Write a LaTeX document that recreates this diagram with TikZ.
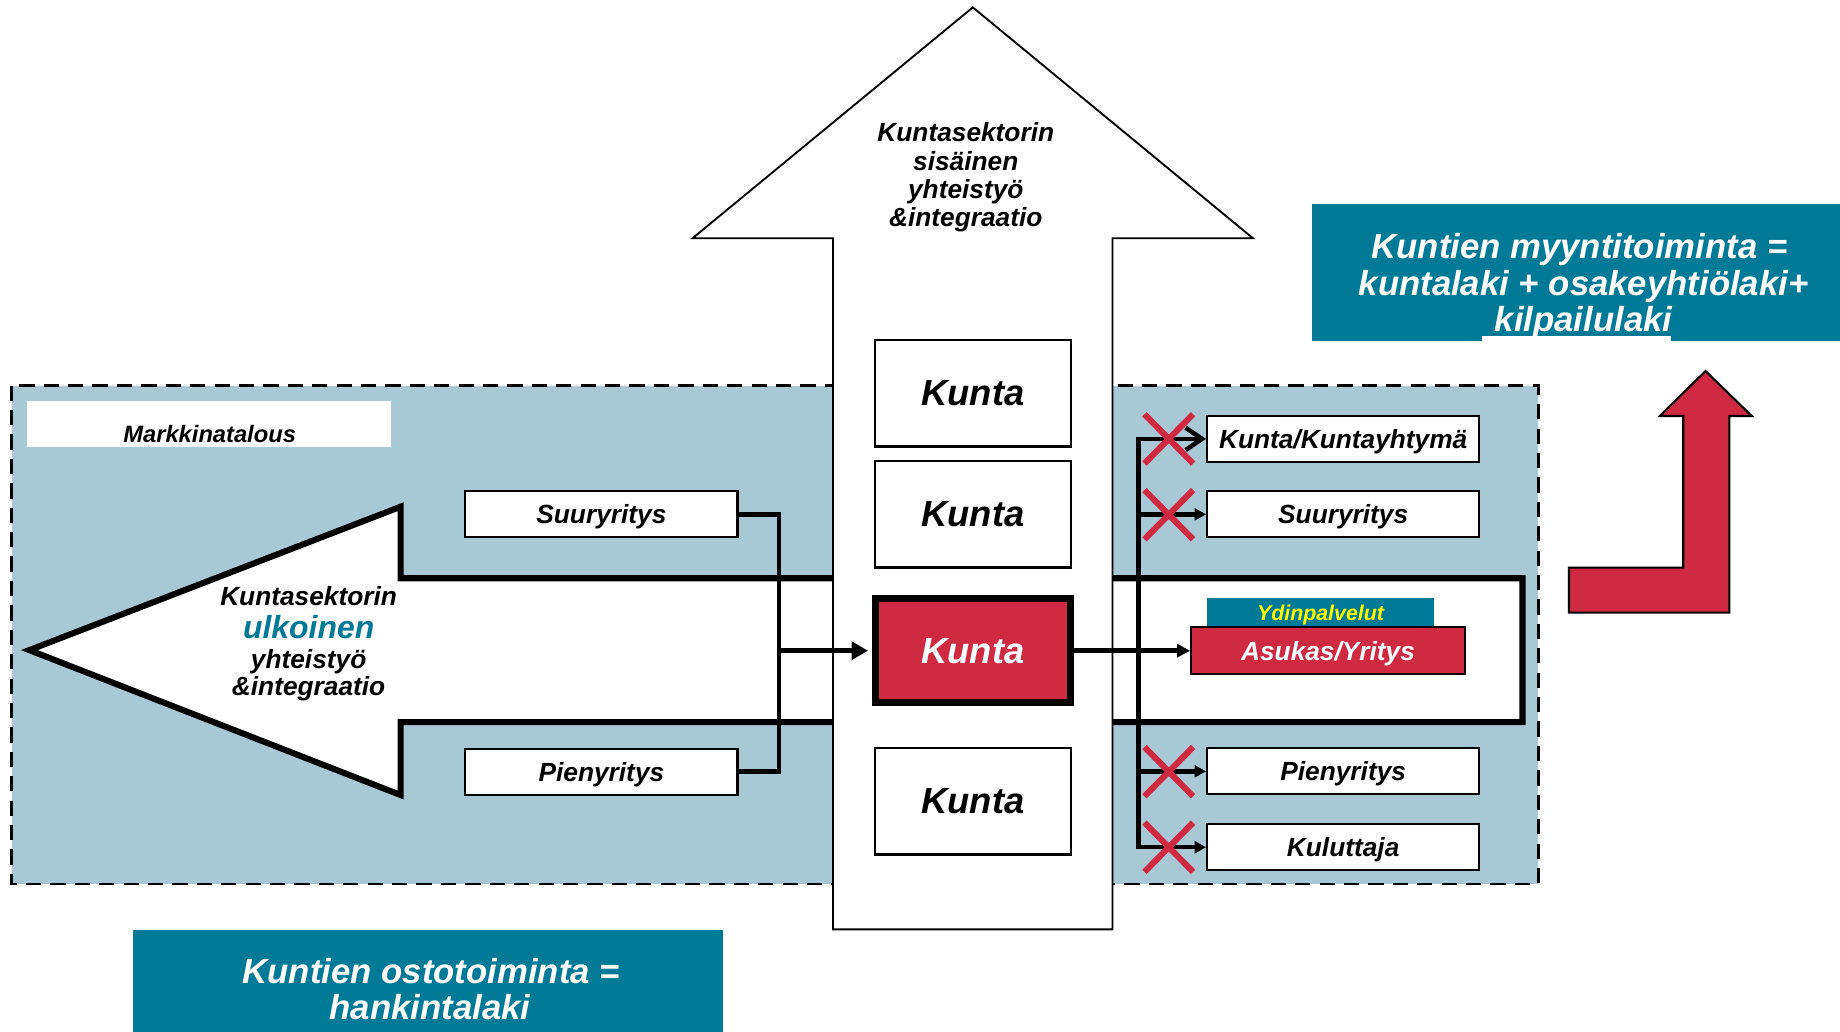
\documentclass[tikz,border=0pt]{standalone}
\usepackage{fontspec}
\setmainfont{Liberation Sans}
\usetikzlibrary{arrows.meta,calc}
\definecolor{paleblue}{HTML}{A9C8D5}
\definecolor{tealc}{HTML}{007A96}
\definecolor{crim}{HTML}{D02A42}
\definecolor{yel}{HTML}{FFFF00}
\tikzset{
  tstd/.style={font=\fontsize{11.2pt}{13pt}\selectfont\bfseries\itshape, inner sep=0pt},
  tkun/.style={font=\fontsize{15.5pt}{17pt}\selectfont\bfseries\itshape},
  tulk/.style={font=\fontsize{13.6pt}{15pt}\selectfont\bfseries\itshape, inner sep=0pt},
  tydin/.style={font=\fontsize{9.1pt}{10pt}\selectfont\bfseries\itshape},
  tmark/.style={font=\fontsize{10.1pt}{11pt}\selectfont\bfseries\itshape, inner sep=0pt},
  tbig/.style={font=\fontsize{14.8pt}{16pt}\selectfont\bfseries\itshape, inner sep=0pt, text=white},
  wbox/.style={draw=black, line width=0.9pt, fill=white, inner sep=0pt, text depth=0pt,
    minimum width=116pt, minimum height=19.6pt,
    font=\fontsize{11.2pt}{13pt}\selectfont\bfseries\itshape},
  kbox/.style={draw=black, line width=0.9pt, fill=white, inner sep=0pt, text depth=0pt,
    minimum width=83.5pt, minimum height=45.3pt, tkun},
  redk/.style={kbox, fill=crim, text=white, line width=3pt, minimum width=83.25pt, minimum height=44.5pt},
  conn/.style={line width=1.9pt},
  tipbig/.style={-{Triangle[length=7pt,width=7.5pt]}},
  tipmid/.style={-{Triangle[length=5.5pt,width=5.5pt]}},
  tipsm/.style={-{Triangle[length=4.8pt,width=5pt]}},
  tipbarb/.style={-{Straight Barb[length=7pt,width=9.5pt]}},
  xmark/.style={draw=crim, line width=2.6pt},
}
\begin{document}
\begin{tikzpicture}[x=0.5pt,y=-0.5pt, line join=miter]
\useasboundingbox (0,0) rectangle (1568,879);

% market economy region
\path[fill=paleblue, draw=black, line width=1.1pt, dash pattern=on 6.5pt off 3.9pt]
  (10,328.6) rectangle (1311,753.3);
\node[fill=white, inner sep=0pt, minimum width=155pt, minimum height=19.5pt] (markbox) at (178,361.5) {};
\node[tmark, anchor=base] (marktext) at (178.7,377) {Markkinatalous};

% external cooperation arrow (left) with right frame
\draw[fill=white, line width=2.6pt] (25,554) -- (341.4,431.8) -- (341.4,492.8) -- (1297.4,492.8)
  -- (1297.4,615.4) -- (341.4,615.4) -- (341.4,677.5) -- cycle;
\node[tstd, anchor=base] (lt1) at (263,516) {Kuntasektorin};
\node[tulk, anchor=base, text=tealc] (lt2) at (263,544.5) {ulkoinen};
\node[tstd, anchor=base] (lt3) at (263,569.5) {yhteistyö};
\node[tstd, anchor=base] (lt4) at (263,593) {\&integraatio};

% left boxes
\node[wbox] (lsuur) at (512.5,438.3) {Suuryritys};
\node[wbox] (lpien) at (512.5,657.5) {Pienyritys};

% internal cooperation arrow (up)
\draw[fill=white, line width=0.8pt] (829,6.3) -- (1067.7,203) -- (948,203) -- (948,792)
  -- (709.9,792) -- (709.9,203) -- (590.2,203) -- cycle;
\node[tstd, anchor=base] (ut1) at (823,120.7) {Kuntasektorin};
\node[tstd, anchor=base] (ut2) at (823,144.9) {sisäinen};
\node[tstd, anchor=base] (ut3) at (823,169.1) {yhteistyö};
\node[tstd, anchor=base] (ut4) at (823,193.3) {\&integraatio};

% Kunta boxes
\node[kbox] (k1) at (829,335.2) {Kunta};
\node[kbox] (k2) at (829,438.3) {Kunta};
\node[redk] (kred) at (829,554.5) {Kunta};
\node[kbox] (k4) at (829,682.9) {Kunta};

% right boxes
\node[wbox] (r1) at (1144.6,374) {Kunta/Kuntayhtymä};
\node[wbox] (r2) at (1144.6,438.3) {Suuryritys};
\node[wbox] (r3) at (1144.6,657.3) {Pienyritys};
\node[wbox] (r4) at (1144.6,722) {Kuluttaja};
\node[fill=tealc, inner sep=0pt, text depth=0pt, minimum width=96.7pt, minimum height=12.35pt,
  tydin, text=yel] (ydin) at (1125.3,522.25) {Ydinpalvelut};
\node[draw=black, line width=0.9pt, fill=crim, inner sep=0pt, text depth=0pt, minimum width=116.7pt,
  minimum height=19.9pt, text=white, font=\fontsize{11.2pt}{13pt}\selectfont\bfseries\itshape]
  (asuk) at (1131.7,554.5) {Asukas/Yritys};

% connectors left
\coordinate (jl) at (664,554.5);
\draw[conn] (lsuur.east) -| (jl) |- (lpien.east);
\draw[conn, tipbig, shorten >=1.5pt] (jl) -- (kred.west);

% connectors right
\coordinate (jr) at (970,554.5);
\draw[conn, tipmid] (kred.east) -- (asuk.west);
\draw[conn, tipbarb] (jr) |- (r1.west);
\draw[conn, tipsm] (jr) |- (r2.west);
\draw[conn, tipsm] (jr) |- (r3.west);
\draw[conn, tipsm] (jr) |- (r4.west);

% red crosses
\foreach \n/\yy in {x1/374, x2/438.6, x3/657.6, x4/722}{
  \coordinate (\n) at (996,\yy);
  \draw[xmark] ($(\n)+(-20.7,-21)$) -- ($(\n)+(20.7,21)$);
  \draw[xmark] ($(\n)+(-20.7,21)$) -- ($(\n)+(20.7,-21)$);
}

% top-right law box
\node[fill=tealc, inner sep=0pt, minimum width=225pt, minimum height=58.25pt] (trbox) at (1343,232.05) {};
\node[tbig, anchor=base] (tr1) at (1346,220.1) {Kuntien myyntitoiminta =};
\node[tbig, anchor=base] (tr2) at (1349.5,252.2) {kuntalaki + osakeyhtiölaki+};
\node[tbig, anchor=base] (tr3) at (1349.5,282.6) {kilpailulaki};
\fill[white] (1263,286.5) rectangle (1424,290.5);

% red L arrow
\draw[fill=crim, line width=0.9pt] (1453.4,316.2) -- (1492.8,354.5) -- (1473.7,354.5) -- (1473.7,522.1)
  -- (1337,522.1) -- (1337,483.7) -- (1434.4,483.7) -- (1434.4,354.5) -- (1414.4,354.5) -- cycle;

% bottom-left law box
\node[fill=tealc, inner sep=0pt, minimum width=251.35pt, minimum height=44pt] (blbox) at (364.85,836.5) {};
\node[tbig, anchor=base] (bl1) at (367.5,838.5) {Kuntien ostotoiminta =};
\node[tbig, anchor=base] (bl2) at (366.5,868.4) {hankintalaki};
\end{tikzpicture}
\end{document}
